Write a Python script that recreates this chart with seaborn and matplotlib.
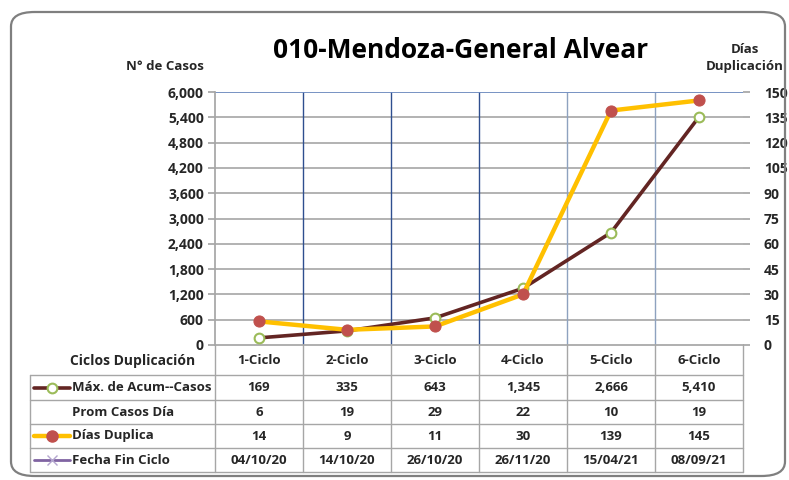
import matplotlib
matplotlib.use("Agg")
import matplotlib.pyplot as plt
import seaborn as sns
import pandas as pd
from matplotlib.lines import Line2D
from matplotlib.patches import FancyBboxPatch
from matplotlib.ticker import FuncFormatter, MultipleLocator

# data
ciclos = ["1-Ciclo", "2-Ciclo", "3-Ciclo", "4-Ciclo", "5-Ciclo", "6-Ciclo"]
max_casos = [169, 335, 643, 1345, 2666, 5410]
prom_casos = [6, 19, 29, 22, 10, 19]
dias_duplica = [14, 9, 11, 30, 139, 145]
fecha_fin = ["04/10/20", "14/10/20", "26/10/20", "26/11/20", "15/04/21", "08/09/21"]

W, H = 789, 480
sns.set_theme(style="white")
plt.rcParams["font.family"] = ["Open Sans", "DejaVu Sans"]
plt.rcParams["font.weight"] = "bold"
FS = 9.5

fig = plt.figure(figsize=(W / 100, H / 100), dpi=100)

# plot area in pixel coords of the reference
x0, x1, y0, y1 = 215, 743, 92, 345
ax = fig.add_axes([x0 / W, 1 - y1 / H, (x1 - x0) / W, (y1 - y0) / H])
ax2 = ax.twinx()

df = pd.DataFrame({"pos": range(len(ciclos)), "casos": max_casos, "dias": dias_duplica})

c_maroon = "#632523"
c_yellow = "#FFC000"
sns.lineplot(data=df, x="pos", y="casos", ax=ax, color=c_maroon, lw=2.6,
             marker="o", ms=7, mfc="white", mec="#9BBB59", mew=1.5, zorder=3)
sns.lineplot(data=df, x="pos", y="dias", ax=ax2, color=c_yellow, lw=3.2,
             marker="o", ms=8, mfc="#C0504D", mec="#C0504D", zorder=3)

ax.set_xlim(-0.5, len(ciclos) - 0.5)
ax.set_ylim(0, 6000)
ax2.set_ylim(0, 150)
ax.yaxis.set_major_locator(MultipleLocator(600))
ax2.yaxis.set_major_locator(MultipleLocator(15))
ax.yaxis.set_major_formatter(FuncFormatter(lambda v, p: f"{int(v):,}"))
ax.set_xticks([])
ax.set_xlabel("")
ax.set_ylabel("")
ax2.set_ylabel("")

# grid: horizontal gray, vertical blue at category boundaries
for v in range(600, 6001, 600):
    ax.axhline(v, color="#A6A6A6", lw=1.2, zorder=0)
for i in range(1, len(ciclos)):
    col = "#8EA2BF" if i >= 4 else "#2F4F8F"
    ax.axvline(i - 0.5, color=col, lw=1.0, zorder=0)
ax.axhline(6000, color="#6F8FC8", lw=1.2, zorder=1)

for a in (ax, ax2):
    for s in a.spines.values():
        s.set_visible(False)
ax.spines["left"].set_visible(True)
ax.spines["left"].set_color("#A6A6A6")
ax.spines["bottom"].set_visible(True)
ax.spines["bottom"].set_color("#A6A6A6")

ax.tick_params(axis="y", left=True, length=5, color="#A6A6A6", labelsize=10, pad=3)
ax2.tick_params(axis="y", right=True, length=5, color="#A6A6A6", labelsize=10, pad=10)
for lab in ax.get_yticklabels() + ax2.get_yticklabels():
    lab.set_fontweight("bold")

# titles
fig.text(461 / W, 1 - 50 / H, "010-Mendoza-General Alvear", ha="center", va="center",
         fontsize=19, fontweight="bold", color="#000000")
fig.text(165 / W, 1 - 66 / H, "N° de Casos", ha="center", va="center",
         fontsize=FS, fontweight="bold")
fig.text(745 / W, 1 - 58 / H, "Días\nDuplicación", ha="center", va="center",
         fontsize=FS, fontweight="bold", linespacing=1.35)


def hline(x_a, x_b, y, color="#A6A6A6", lw=1.0):
    fig.add_artist(Line2D([x_a / W, x_b / W], [1 - y / H, 1 - y / H], color=color, lw=lw))


def vline(x, y_a, y_b, color="#A6A6A6", lw=1.0):
    fig.add_artist(Line2D([x / W, x / W], [1 - y_a / H, 1 - y_b / H], color=color, lw=lw))


# data table
col_w = (x1 - x0) / len(ciclos)
row_ys = [375, 400, 424, 448, 472]
tx0 = 30
for y in row_ys:
    hline(tx0, x1, y)
vline(tx0, row_ys[0], row_ys[-1])
for i in range(len(ciclos) + 1):
    vline(x0 + i * col_w, y1, row_ys[-1])

fig.text(195 / W, 1 - 361 / H, "Ciclos Duplicación", ha="right", va="center",
         fontsize=FS + 0.5, fontweight="bold")
for i, c in enumerate(ciclos):
    fig.text((x0 + (i + 0.5) * col_w) / W, 1 - 361 / H, c, ha="center", va="center",
             fontsize=FS, fontweight="bold")

row_labels = ["Máx. de Acum--Casos", "Prom Casos Día", "Días Duplica", "Fecha Fin Ciclo"]
row_vals = [[f"{v:,}" for v in max_casos], [str(v) for v in prom_casos],
            [str(v) for v in dias_duplica], fecha_fin]
for r in range(4):
    yc = (row_ys[r] + row_ys[r + 1]) / 2
    fig.text(72 / W, 1 - yc / H, row_labels[r], ha="left", va="center",
             fontsize=FS, fontweight="bold")
    for i, v in enumerate(row_vals[r]):
        fig.text((x0 + (i + 0.5) * col_w) / W, 1 - yc / H, v, ha="center", va="center",
                 fontsize=FS, fontweight="bold")

# legend keys inside the table
def key(yc, color, lw, **mk):
    fig.add_artist(Line2D([34 / W, 70 / W], [1 - yc / H] * 2, color=color, lw=lw))
    fig.add_artist(Line2D([52 / W], [1 - yc / H], **mk))


key((row_ys[0] + row_ys[1]) / 2, c_maroon, 2.6, marker="o", ms=7, mfc="white",
    mec="#9BBB59", mew=1.5, ls="none")
key((row_ys[2] + row_ys[3]) / 2, c_yellow, 3.2, marker="o", ms=8, mfc="#C0504D",
    mec="#C0504D", ls="none")
key((row_ys[3] + row_ys[4]) / 2, "#8064A2", 2.0, marker="x", ms=7, mec="#B4A7CF",
    mew=1.0, ls="none")

# outer rounded frame
frame = FancyBboxPatch((11 / W, 1 - 476 / H), 774 / W, 464 / H,
                       boxstyle="round,pad=0,rounding_size=0.03",
                       transform=fig.transFigure, fill=False, ec="#7F7F7F", lw=1.6)
fig.add_artist(frame)

fig.savefig("out.png", dpi=100)
